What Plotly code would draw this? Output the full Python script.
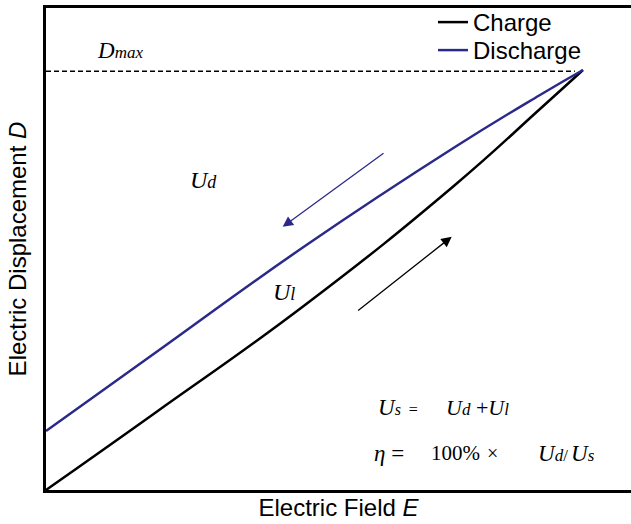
import plotly.graph_objects as go

# Data (E and D in arbitrary units, 0-100 axis range)
charge_E = [0.0, 18.63, 44.27, 69.91, 84.44, 91.79]
charge_D = [0.0, 15.98, 38.38, 63.28, 79.05, 87.14]
discharge_E = [0.0, 18.63, 44.27, 69.91, 84.44, 91.79]
discharge_D = [12.24, 28.42, 50.62, 71.16, 81.95, 87.14]
dmax_E = [0.0, 90.4]
dmax_D = [86.9, 86.9]

W, H = 631, 524
ML, MR, MT, MB = 46, 0, 8, 34
PW, PH = W - ML - MR, H - MT - MB

def px(xp):
    return (xp - ML) / PW

def py(yp):
    return (H - MB - yp) / PH

BLUE = "#2b2a8a"
SERIF = "Liberation Serif"
SANS = "Liberation Sans"

def small(s, size=17):
    return "<span style='font-size:%dpx'>%s</span>" % (size, s)

fig = go.Figure()
fig.add_trace(go.Scatter(x=charge_E, y=charge_D, mode="lines", name="Charge", legend="legend",
                         line=dict(color="black", width=2.5, shape="spline", smoothing=1.3)))
fig.add_trace(go.Scatter(x=discharge_E, y=discharge_D, mode="lines", name="Discharge", legend="legend2",
                         line=dict(color=BLUE, width=2.5, shape="spline", smoothing=1.3)))
fig.add_trace(go.Scatter(x=dmax_E, y=dmax_D, mode="lines", showlegend=False,
                         line=dict(color="black", width=1.5, dash="5px,3px")))

ann = []
def txt(s, xp, yp, size=23, anchor="left"):
    ann.append(dict(text=s, x=px(xp), y=py(yp), xref="paper", yref="paper",
                    xanchor=anchor, yanchor="middle", showarrow=False,
                    font=dict(family=SERIF, size=size, color="black")))

txt("<i>D</i>" + small("<i>max</i>", 17), 95, 50, 23)
txt("<i>U</i>" + small("<i>d</i>", 18), 188, 180, 24)
txt("<i>U</i>" + small("<i>l</i>", 18), 271, 292, 24)
txt("<i>U</i>" + small("<i>s</i>\u00a0\u00a0=", 16), 376, 408, 23)
txt("<i>U</i>" + small("<i>d</i>", 17) + " +<i>U</i>" + small("<i>l</i>", 17), 444, 408, 22)
txt("<i>η</i> =", 372, 453, 23)
txt("100%", 429, 453, 21)
txt("×", 485, 453, 20)
txt("<i>U</i>" + small("<i>d</i>/", 17), 536, 453, 23)
txt("<i>U</i>" + small("<i>s</i>", 17), 569, 453, 23)

# arrows (tail -> head), data coordinates
ann.append(dict(x=40.46, y=54.6, ax=57.95, ay=70.1, xref="x", yref="y", axref="x", ayref="y",
                showarrow=True, arrowhead=2, arrowsize=1.6, arrowwidth=1.3, arrowcolor=BLUE, text=""))
ann.append(dict(x=69.35, y=52.55, ax=53.1, ay=37.0, xref="x", yref="y", axref="x", ayref="y",
                showarrow=True, arrowhead=2, arrowsize=1.6, arrowwidth=1.3, arrowcolor="black", text=""))

leg = dict(xanchor="left", yanchor="top", bgcolor="rgba(0,0,0,0)",
           font=dict(size=24, family=SANS))

fig.update_layout(
    width=W, height=H, margin=dict(l=ML, r=MR, t=MT, b=MB),
    plot_bgcolor="white", paper_bgcolor="white",
    font=dict(family=SANS, size=24, color="black"),
    showlegend=True,
    legend=dict(x=px(433), y=py(0), **leg),
    legend2=dict(x=px(433), y=py(28), **leg),
    annotations=ann,
    xaxis=dict(range=[0, 100], showgrid=False, zeroline=False, showticklabels=False,
               ticks="", showline=True, linecolor="black", linewidth=2.5, mirror=True,
               title=dict(text="Electric Field <i>E</i>", standoff=8,
                          font=dict(family=SANS, size=24))),
    yaxis=dict(range=[0, 100], showgrid=False, zeroline=False, showticklabels=False,
               ticks="", showline=True, linecolor="black", linewidth=2.5, mirror=False,
               title=dict(text="Electric Displacement <i>D</i>", standoff=10,
                          font=dict(family=SANS, size=24))),
)

fig.write_html("out.html")
